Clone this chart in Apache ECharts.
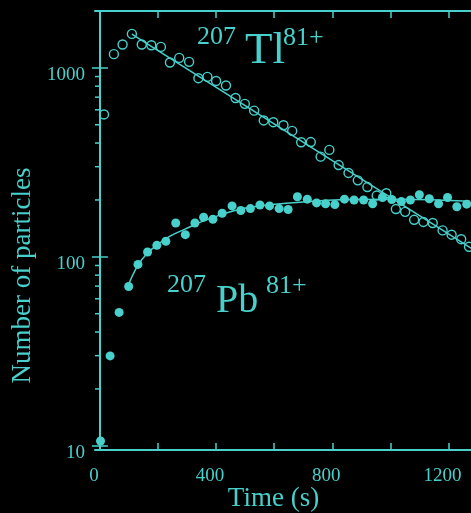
<!DOCTYPE html>
<html>
<head>
<meta charset="utf-8">
<script src="https://cdn.jsdelivr.net/npm/echarts@6/dist/echarts.min.js"></script>
<style>
  html, body { margin: 0; padding: 0; background: #000; }
  #chart { width: 471px; height: 513px; }
</style>
</head>
<body>
<div id="chart"></div>
<script>
// 207Tl81+ ions (open circles): time (s) and counts
const tlTime = [14, 48, 78, 110, 144, 177, 210, 241, 273, 307, 339, 370, 400, 434, 467, 499, 531, 564, 597, 632,
                662, 693, 726, 760, 790, 822, 856, 888, 921, 953, 986, 1019, 1051, 1082, 1114, 1146, 1180, 1211, 1244, 1271];
const tlCounts = [567, 1182, 1330, 1513, 1330, 1318, 1291, 1068, 1129, 1076, 882, 896, 853, 807, 693, 645, 594, 527, 516, 497,
                  464, 404, 405, 339, 368, 306, 278, 254, 234, 211, 217, 179, 173, 157, 153, 151, 138, 131, 124, 113];

// 207Pb81+ daughter ions (filled circles): time (s) and counts
const pbTime = [2, 35, 66, 99, 131, 164, 196, 227, 261, 294, 327, 357, 389, 421, 455, 485, 518, 551, 584, 617,
                648, 680, 714, 746, 777, 809, 842, 875, 908, 939, 973, 1005, 1038, 1069, 1100, 1134, 1166, 1197, 1229, 1263];
const pbCounts = [10.6, 29.9, 50.8, 69.7, 91.2, 106, 115, 121, 151, 131, 151, 162, 158, 170, 186, 176, 180, 188, 186, 180,
                  178, 208, 202, 193, 191, 189, 202, 200, 200, 191, 206, 201, 196, 200, 213, 203, 191, 206, 184, 190];

// Fitted exponential decay of the parent (straight on the log scale)
const tlFitTime = [110, 1295];
const tlFitCounts = [1510, 107];

// Fitted growth curve of the daughter
const pbFitTime = [99, 131, 163, 196, 241, 293, 355, 413, 482, 586, 689, 827, 1033, 1275];
const pbFitCounts = [71.7, 90.4, 104.6, 115.3, 128.7, 140.2, 154.5, 166.2, 178.8, 188.9, 194.7, 200.8, 202.0, 197.1];

// Axis ranges and ticks
const X_MIN = -17, X_MAX = 1295;
const xTicks = [0, 200, 400, 600, 800, 1000, 1200];
const xLabels = [0, 400, 800, 1200];
const Y_MIN = 9.5, Y_MAX = 2000;
const yMajorTicks = [10, 100, 1000];
const yMinorTicks = [20, 30, 40, 50, 60, 70, 80, 90, 200, 300, 400, 500, 600, 700, 800, 900];

const CYAN = '#48d1cc';
const SERIF = '"Liberation Serif", "Times New Roman", serif';

const zip = (xs, ys) => xs.map((x, i) => [x, ys[i]]);

const axisLine = { lineStyle: { color: CYAN, width: 2 } };
const labelFont = { color: CYAN, fontFamily: SERIF, fontSize: 19 };

const chart = echarts.init(document.getElementById('chart'), null, { renderer: 'canvas' });

chart.setOption({
  backgroundColor: '#000',
  animation: false,
  grid: { left: 95, right: -5, top: 11, bottom: 63, outerBoundsMode: 'none', containLabel: false },
  xAxis: [
    {
      type: 'value', position: 'bottom', min: X_MIN, max: X_MAX,
      axisLine: axisLine,
      axisTick: { inside: true, length: 7, customValues: xTicks, lineStyle: { color: CYAN, width: 1.5 } },
      axisLabel: {
        customValues: xLabels, margin: 17,
        formatter: v => '{t|' + v + '}',
        rich: { t: Object.assign({ padding: [0, 12, 0, 0] }, labelFont) }
      },
      splitLine: { show: false },
      name: 'Time (s)', nameLocation: 'middle', nameGap: 35, nameMoveOverlap: false,
      nameTextStyle: { color: CYAN, fontFamily: SERIF, fontSize: 27, padding: [0, 24, 0, 0] }
    },
    {
      type: 'value', position: 'top', min: X_MIN, max: X_MAX,
      axisLine: axisLine,
      axisTick: { inside: true, length: 7, customValues: xTicks, lineStyle: { color: CYAN, width: 1.5 } },
      axisLabel: { show: false },
      splitLine: { show: false }
    }
  ],
  yAxis: [
    {
      type: 'log', logBase: 10, position: 'left', min: Y_MIN, max: Y_MAX,
      axisLine: axisLine,
      axisTick: { inside: true, length: 8, customValues: yMajorTicks, lineStyle: { color: CYAN, width: 1.5 } },
      axisLabel: {
        customValues: yMajorTicks, margin: 10,
        formatter: v => '{t|' + Math.round(v) + '}',
        rich: { t: Object.assign({ padding: [14, 0, 0, 0] }, labelFont) }
      },
      splitLine: { show: false },
      name: 'Number of particles', nameLocation: 'middle', nameRotate: 90, nameGap: 59, nameMoveOverlap: false,
      nameTextStyle: { color: CYAN, fontFamily: SERIF, fontSize: 27, padding: [0, 90, 0, 0] }
    },
    {
      type: 'log', logBase: 10, position: 'right', min: Y_MIN, max: Y_MAX,
      axisLine: axisLine,
      axisTick: { inside: true, length: 8, customValues: yMajorTicks, lineStyle: { color: CYAN, width: 1.5 } },
      axisLabel: { show: false },
      splitLine: { show: false }
    }
  ],
  series: [
    {
      // minor ticks of the log axis, on both sides of the frame
      type: 'custom', name: 'minor ticks', silent: true, clip: false,
      data: yMinorTicks.map(v => [X_MIN, v]),
      renderItem: (params, api) => {
        const v = api.value(1);
        const l = api.coord([X_MIN, v]);
        const r = api.coord([X_MAX, v]);
        const st = { stroke: CYAN, lineWidth: 1.5 };
        return {
          type: 'group',
          children: [
            { type: 'line', shape: { x1: l[0], y1: l[1], x2: l[0] + 4.5, y2: l[1] }, style: st },
            { type: 'line', shape: { x1: r[0] - 4.5, y1: r[1], x2: r[0], y2: r[1] }, style: st }
          ]
        };
      }
    },
    {
      type: 'line', name: 'Tl fit', data: zip(tlFitTime, tlFitCounts),
      symbol: 'none', lineStyle: { color: CYAN, width: 1.5 }, z: 3
    },
    {
      type: 'line', name: 'Pb fit', data: zip(pbFitTime, pbFitCounts), smooth: 0.4,
      symbol: 'none', lineStyle: { color: CYAN, width: 1.5 }, z: 3
    },
    {
      type: 'scatter', name: '207Tl81+', data: zip(tlTime, tlCounts),
      symbol: 'circle', symbolSize: 9,
      itemStyle: { color: 'rgba(0,0,0,0)', borderColor: CYAN, borderWidth: 1.4, opacity: 1 }, z: 4
    },
    {
      type: 'scatter', name: '207Pb81+', data: zip(pbTime, pbCounts),
      symbol: 'circle', symbolSize: 9,
      itemStyle: { color: CYAN, opacity: 1 }, z: 4
    }
  ],
  graphic: [
    { type: 'text', left: 197, top: 24, style: { text: '207', fill: CYAN, font: '26px ' + SERIF } },
    { type: 'text', left: 245, top: 29, style: { text: 'Tl', fill: CYAN, font: '45px ' + SERIF } },
    { type: 'text', left: 283, top: 25, style: { text: '81+', fill: CYAN, font: '26px ' + SERIF } },
    { type: 'text', left: 167, top: 272, style: { text: '207', fill: CYAN, font: '26px ' + SERIF } },
    { type: 'text', left: 216, top: 281, style: { text: 'Pb', fill: CYAN, font: '40px ' + SERIF } },
    { type: 'text', left: 266, top: 273, style: { text: '81+', fill: CYAN, font: '26px ' + SERIF } }
  ]
});
</script>
</body>
</html>
